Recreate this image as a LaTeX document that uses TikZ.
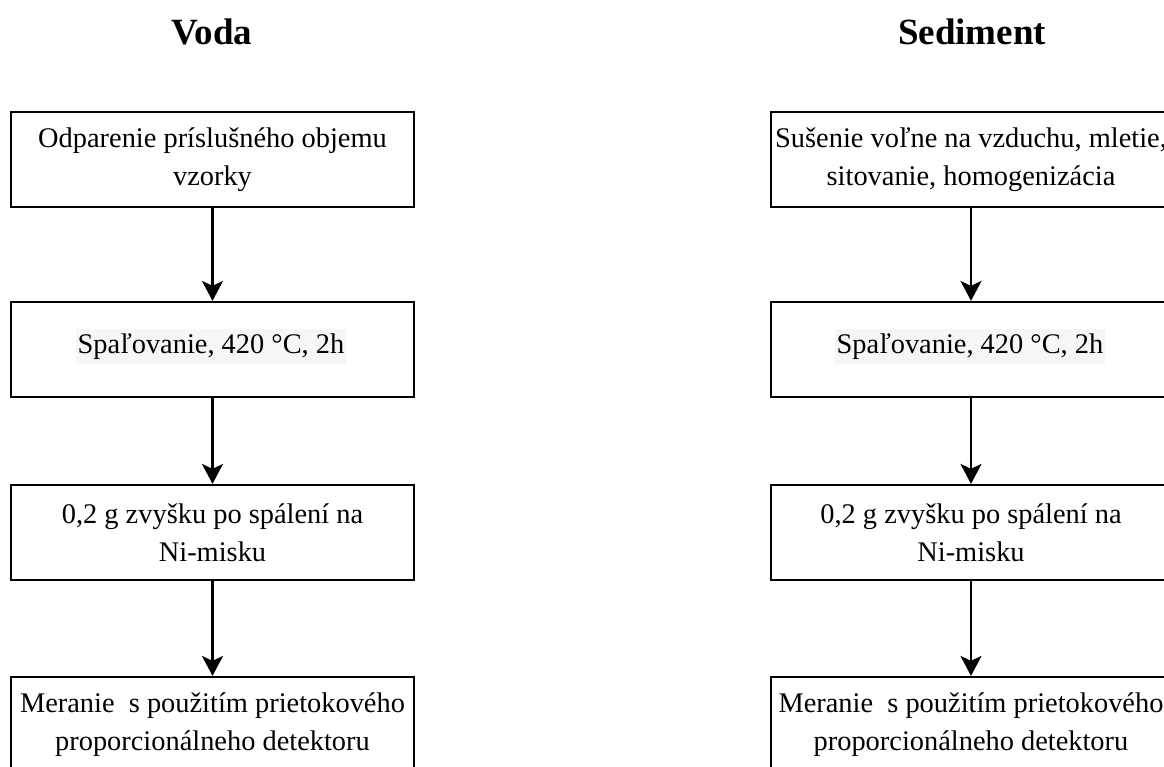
\documentclass[tikz,border=0pt]{standalone}
\usepackage{fontspec}
\setmainfont{Liberation Serif}
\usetikzlibrary{arrows.meta}
\begin{document}
\begin{tikzpicture}[x=1pt,y=-1pt,
  stepbox/.style={draw=black,line width=2.2pt,minimum width=403pt,minimum height=95pt,
    inner sep=0pt,align=center,font=\fontsize{28.4}{38}\selectfont},
  stepboxr/.style={stepbox,minimum width=400pt},
  hl/.style={fill={rgb,255:red,246;green,246;blue,246},inner xsep=2pt,inner ysep=5pt,font=\fontsize{28.4}{38}\selectfont},
  title/.style={font=\fontsize{37}{40}\selectfont\bfseries},
  flow/.style={line width=2.2pt,-{Stealth[length=20pt,width=21pt,inset=5pt]}}]
\useasboundingbox (0,0) rectangle (1164,767);
\node[title,anchor=base] (t1) at (212,45) {Voda};
\node[title,anchor=base] (t2) at (972,45) {Sediment};
% left column
\node[stepbox] (l1) at (212.5,159.5) {Odparenie príslušného objemu\\vzorky};
\node[stepbox] (l2) at (212.5,349.5) {};
\node[hl] (l2t) at (211,346.5) {Spaľovanie, 420 °C, 2h};
\node[stepbox] (l3) at (212.5,532.5) {0,2 g zvyšku po spálení na\\Ni-misku};
\node[stepbox] (l4) at (212.5,724.5) {Meranie\ \ s použitím prietokového\\proporcionálneho detektoru};
% right column
\node[stepboxr] (r1) at (971,159.5) {Sušenie voľne na vzduchu, mletie,\\sitovanie, homogenizácia};
\node[stepboxr] (r2) at (971,349.5) {};
\node[hl] (r2t) at (970,346.5) {Spaľovanie, 420 °C, 2h};
\node[stepboxr] (r3) at (971,532.5) {0,2 g zvyšku po spálení na\\Ni-misku};
\node[stepboxr] (r4) at (971,724.5) {Meranie\ \ s použitím prietokového\\proporcionálneho detektoru};
% arrows
\draw[flow] (l1) -- (l2);
\draw[flow] (l2) -- (l3);
\draw[flow] (l3) -- (l4);
\draw[flow] (r1) -- (r2);
\draw[flow] (r2) -- (r3);
\draw[flow] (r3) -- (r4);
\end{tikzpicture}
\end{document}
